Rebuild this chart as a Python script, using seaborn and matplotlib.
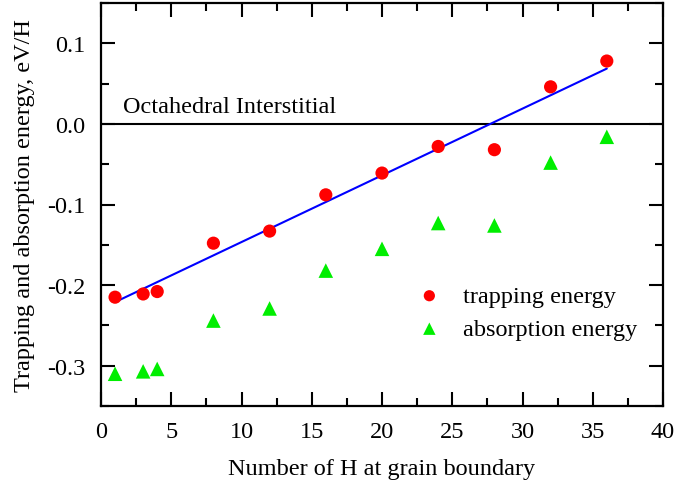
import numpy as np
import pandas as pd
import matplotlib
matplotlib.use("Agg")
import matplotlib.pyplot as plt
import seaborn as sns
from matplotlib.ticker import MultipleLocator

n_h = [1, 3, 4, 8, 12, 16, 20, 24, 28, 32, 36]
trapping = [-0.215, -0.211, -0.208, -0.148, -0.133, -0.088, -0.061, -0.028, -0.032, 0.046, 0.078]
absorption = [-0.310, -0.307, -0.304, -0.244, -0.229, -0.182, -0.155, -0.123, -0.126, -0.048, -0.016]

sns.set_theme(style="ticks")
plt.rcParams['font.family'] = ['Liberation Serif', 'DejaVu Serif']
plt.rcParams['text.color'] = 'black'
plt.rcParams['axes.labelcolor'] = 'black'
plt.rcParams['xtick.color'] = 'black'
plt.rcParams['ytick.color'] = 'black'

FS = 17.5

df_t = pd.DataFrame({"n": n_h, "e": trapping})
df_a = pd.DataFrame({"n": n_h, "e": absorption})

fig = plt.figure(figsize=(6.74, 4.85), dpi=100)
ax = fig.add_axes([101/674, 1-407/485, (663-101)/674, (407-4)/485])

ax.axhline(0, color="black", lw=1.5, zorder=1)

coef = np.polyfit(df_t["n"], df_t["e"], 1)
xl = np.array([min(n_h), max(n_h)])
sns.lineplot(x=xl, y=np.polyval(coef, xl), ax=ax, color="blue", lw=1.5, zorder=2)

sns.scatterplot(data=df_t, x="n", y="e", ax=ax, marker="o", color="red", s=90,
                edgecolor="none", label="trapping energy", zorder=3)
sns.scatterplot(data=df_a, x="n", y="e", ax=ax, marker="^", color="#00ee00", s=110,
                edgecolor="none", label="absorption energy", zorder=3)

ax.text(1.55, 0.022, "Octahedral Interstitial", fontsize=FS, va="center", ha="left")

ax.set_xlim(0, 40)
ax.set_ylim(-0.35, 0.15)
ax.xaxis.set_major_locator(MultipleLocator(5))
ax.xaxis.set_minor_locator(MultipleLocator(2.5))
ax.yaxis.set_major_locator(MultipleLocator(0.1))
ax.yaxis.set_minor_locator(MultipleLocator(0.05))
ax.yaxis.set_major_formatter(matplotlib.ticker.FuncFormatter(lambda v, p: f"{v:.1f}".replace("-0.0", "0.0")))
ax.tick_params(which="both", direction="in", top=True, right=True, width=1.5, labelsize=FS)
ax.tick_params(which="major", length=10, pad=11)
ax.tick_params(which="minor", length=6)
for s in ax.spines.values():
    s.set_linewidth(1.6)
    s.set_color("black")

ax.set_xlabel("Number of H at grain boundary", fontsize=FS, labelpad=11)
ax.set_ylabel("Trapping and absorption energy, eV/H", fontsize=FS, labelpad=9)

leg = ax.legend(loc="upper left", bbox_to_anchor=(0.541, 0.30), frameon=False, fontsize=FS,
                handletextpad=0.4, labelspacing=0.45, markerscale=0.85, borderpad=0,
                borderaxespad=0, handlelength=2)

fig.savefig("out.png", dpi=100)
